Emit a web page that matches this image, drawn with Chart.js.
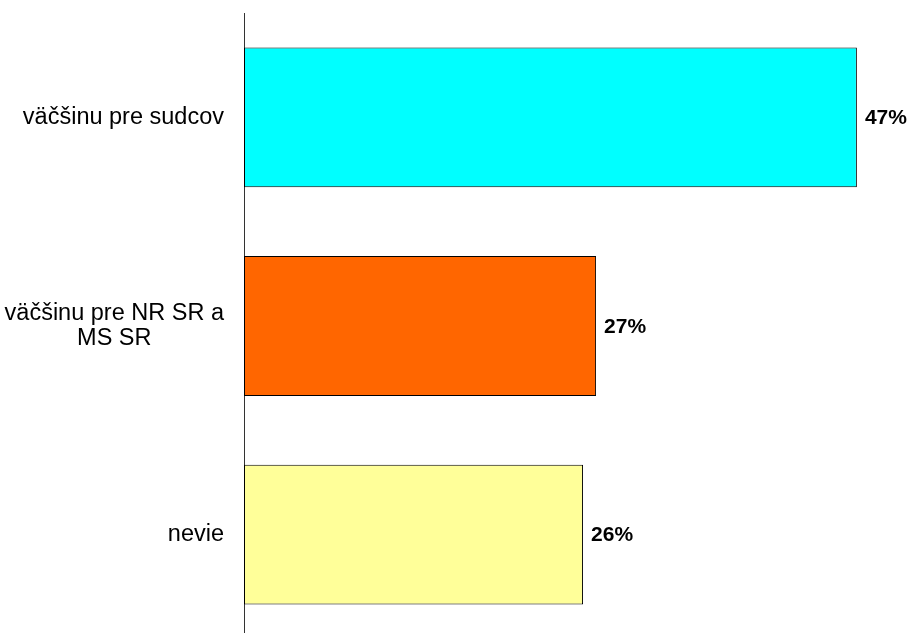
<!DOCTYPE html>
<html>
<head>
    <meta charset='utf-8'>
    <title></title>
    <script src="https://cdn.jsdelivr.net/npm/chart.js@4.4.1/dist/chart.umd.min.js"></script>
    <style>
        html, body { margin: 0; padding: 0; background: #fff; overflow: hidden; }
        #wrap { width: 916px; height: 639px; }
    </style>
</head>
<body>
    <div id="wrap"><canvas id="canvasB"></canvas></div>

<script>
    var kategorie = [['väčšinu pre sudcov'], ['väčšinu pre NR SR a', 'MS SR'], ['nevie']]
    var hodnoty = [47, 27, 26]
    var farby = ['#00FFFF', '#FF6600', '#FFFF99']

    // popisky osi - blok zarovnany doprava, riadky na stred
    var popisky = {
        id: 'popisky',
        afterDraw: function (chart) {
            var ctx = chart.ctx
            var y = chart.scales.y
            ctx.save()
            ctx.font = '23.5px "Liberation Sans", Arial, sans-serif'
            ctx.fillStyle = '#000'
            ctx.textAlign = 'center'
            ctx.textBaseline = 'middle'
            var lh = 24.5
            kategorie.forEach(function (riadky, i) {
                var sirka = Math.max.apply(null, riadky.map(function (r) { return ctx.measureText(r).width }))
                var cx = chart.chartArea.left - 20 - sirka / 2
                var cy = y.getPixelForValue(i)
                riadky.forEach(function (r, j) {
                    ctx.fillText(r, cx, cy + (j - (riadky.length - 1) / 2) * lh)
                })
            })
            // hodnoty za stlpcami
            ctx.font = 'bold 21px "Liberation Sans", Arial, sans-serif'
            ctx.textAlign = 'left'
            var meta = chart.getDatasetMeta(0)
            meta.data.forEach(function (bar, i) {
                ctx.fillText(hodnoty[i] + '%', bar.x + 8, bar.y + 1)
            })
            ctx.restore()
        }
    }

    var ctx = document.getElementById('canvasB').getContext('2d')
    var myChart = new Chart(ctx, {
        type: 'bar',
        data: {
            labels: kategorie,
            datasets: [{
                data: hodnoty,
                backgroundColor: farby,
                borderColor: '#000',
                borderWidth: 1,
                borderSkipped: false,
                categoryPercentage: 1,
                barPercentage: 0.67
            }]
        },
        plugins: [popisky],
        options: {
            indexAxis: 'y',
            responsive: true,
            maintainAspectRatio: false,
            animation: false,
            layout: { padding: { top: 13, right: 20, bottom: 0, left: 0 } },
            plugins: {
                legend: { display: false },
                tooltip: { enabled: false }
            },
            scales: {
                x: { display: false, min: 0, max: 50 },
                y: {
                    grid: { display: false, drawTicks: false },
                    border: { display: true, color: '#333', width: 1 },
                    ticks: { display: false },
                    afterFit: function (scale) { scale.width = 244 }
                }
            }
        }
    })
</script>
</body>
</html>
